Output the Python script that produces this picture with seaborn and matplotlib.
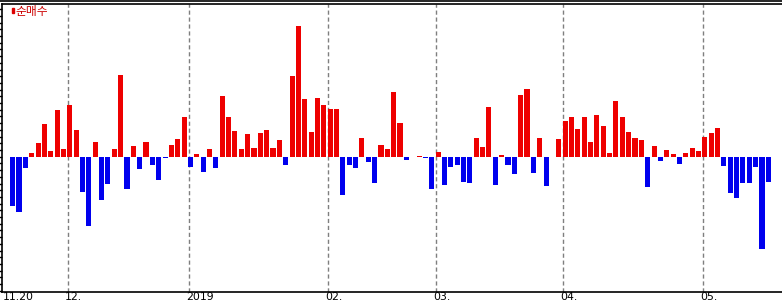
import numpy as np
import pandas as pd
import matplotlib
matplotlib.use("Agg")
import matplotlib.pyplot as plt
import matplotlib.transforms as mtransforms
from matplotlib.lines import Line2D
from matplotlib.patches import Rectangle
import seaborn as sns

# ---- data ----
values = [
    -49.3, -55.3, -11, 4, 14, 32.7, 5.7, 46.7, 7.7, 52,
    26.7, -35, -69, 14.7, -43, -27, 7.7, 82, -32, 11,
    -12, 14.7, -8, -23, -1, 11.7, 17.7, 40, -10, 2.7,
    -15, 7.7, -11, 60.7, 40, 25.7, 7.7, 23, 9, 23.7,
    26.7, 8.7, 16.7, -8, 80.7, 131, 57.7, 24.7, 58.7, 51.7,
    47.7, 47.7, -38, -8, -11, 18.7, -5.3, -26, 11.7, 7.7,
    64.7, 33.7, -3, 0, 1, -1, -32, 4.7, -28, -10,
    -8, -25, -26, 18.7, 9.7, 49.7, -28, 1.7, -8, -17,
    61.7, 67.7, -16, 18.7, -29, -0.7, 17.7, 35.7, 39.7, 27.7,
    39.7, 14.7, 41.7, 30.7, 3.7, 55.7, 39.7, 24.7, 18.7, 16.7,
    -30, 10.7, -4, 6.7, 2.7, -7, 3.7, 8.7, 5.7, 19.7,
    23.7, 28.7, -9, -36, -41, -26, -26, -10, -92, -25,
]
tick_positions = [0, 9, 28, 50, 67, 87, 109]
tick_labels = ["11.20", "12.", "2019", "02.", "03.", "04.", "05."]
legend_label = "순매수"

RED = "#ee0000"
BLUE = "#0000ee"

df = pd.DataFrame({
    "idx": np.arange(len(values)),
    "val": values,
})
df["sign"] = np.where(df["val"] >= 0, "pos", "neg")

sns.set_style("white")
plt.rcParams["font.family"] = ["DejaVu Sans"]

fig = plt.figure(figsize=(7.82, 3.03), dpi=100)
W, H = 782, 303
ax = fig.add_axes([2 / W, (H - 292) / H, 1 - 2 / W, (292 - 4) / H])

sns.barplot(data=df, x="idx", y="val", hue="sign",
            palette={"pos": RED, "neg": BLUE}, dodge=False,
            width=0.8, legend=False, ax=ax, saturation=1, linewidth=0)

ax.set_xlim(-1.68, 121.15)
ax.set_ylim(-135.3, 152.7)
ax.set_xlabel("")
ax.set_ylabel("")

# dashed vertical month separators
for p in tick_positions[1:]:
    ax.axvline(p - 0.28, color="#7f7f7f", lw=1, ls=(0, (3, 2)), zorder=0)

# x labels (left aligned near separator), bottom-anchored so they stay inside
ax.set_xticks([])
blend = mtransforms.blended_transform_factory(ax.transData, fig.transFigure)
for i, (p, lab) in enumerate(zip(tick_positions, tick_labels)):
    if i == 0:
        fig.text(3 / W, 0.8 / H, lab, ha="left", va="bottom", fontsize=7.8, color="black")
    else:
        off = mtransforms.ScaledTranslation(-3 / 100, 0, fig.dpi_scale_trans)
        fig.text(p - 0.28, 0.8 / H, lab, transform=blend + off,
                 ha="left", va="bottom", fontsize=7.8, color="black")

# y ticks: small marks, no labels
yt = np.arange(0, 152.7, 6.7)
yt = np.concatenate([-np.arange(6.7, 135.3, 6.7)[::-1], yt])
ax.set_yticks(yt)
ax.set_yticklabels([])
ax.tick_params(axis="y", direction="out", length=2.5, width=1, color="black", left=True)

for s in ["left", "bottom", "top"]:
    ax.spines[s].set_visible(True)
    ax.spines[s].set_color("black")
    ax.spines[s].set_linewidth(1.2)
ax.spines["right"].set_visible(False)

# extra top line (double border)
fig.add_artist(Line2D([0, 1], [1 - 0.8 / H, 1 - 0.8 / H], color="black", lw=1.2,
                      transform=fig.transFigure))

# legend marker and label
fig.add_artist(Rectangle((12 / W, 1 - 12.5 / H), 1.8 / W, 5 / H, color="#dd0000",
                         transform=fig.transFigure))
fig.text(15.5 / W, 1 - 11 / H, legend_label, color="#cc0000", fontsize=8.5,
         family=["Noto Sans CJK KR", "DejaVu Sans"], ha="left", va="center")

fig.savefig("out.png", dpi=100)
